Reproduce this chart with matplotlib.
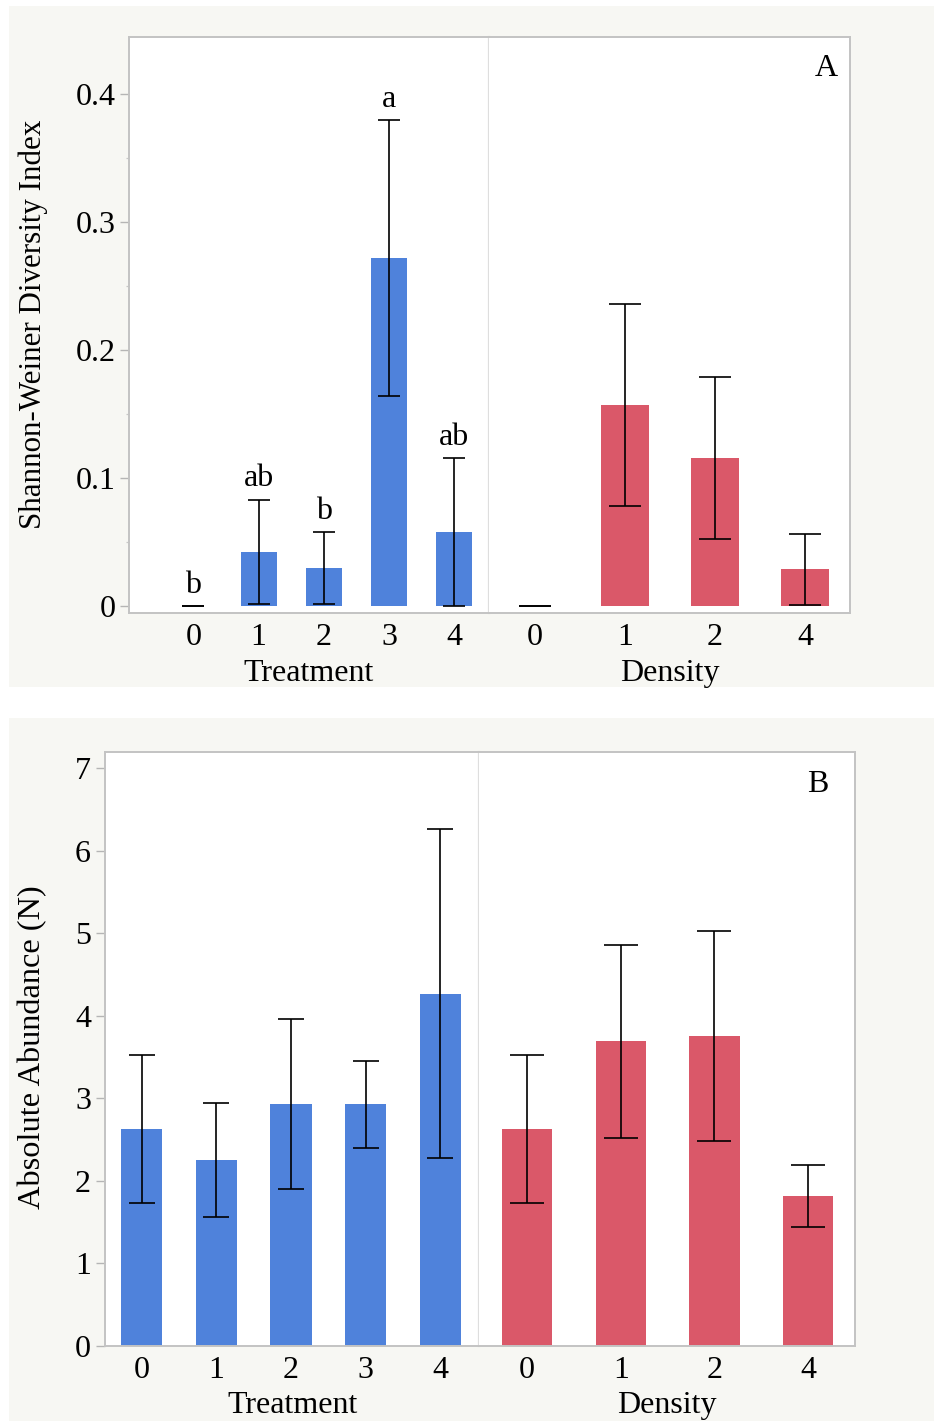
import matplotlib
matplotlib.use("Agg")
import matplotlib.pyplot as plt
from matplotlib.patches import Rectangle
from matplotlib.ticker import MultipleLocator
import numpy as np

# ---- data -------------------------------------------------------------
treat_levels = ["0", "1", "2", "3", "4"]
density_levels = ["0", "1", "2", "4"]

# Shannon-Weiner diversity index (mean and standard error)
div_treat_mean = [0.0, 0.042, 0.0295, 0.272, 0.0577]
div_treat_se = [0.0, 0.041, 0.0284, 0.108, 0.0578]
div_treat_letters = ["b", "ab", "b", "a", "ab"]
div_density_mean = [0.0, 0.157, 0.1155, 0.0285]
div_density_se = [0.0, 0.079, 0.063, 0.0276]

# Absolute abundance N (mean and standard error)
abund_treat_mean = [2.63, 2.255, 2.93, 2.93, 4.266]
abund_treat_se = [0.895, 0.69, 1.03, 0.527, 1.99]
abund_density_mean = [2.63, 3.69, 3.753, 1.815]
abund_density_se = [0.895, 1.17, 1.276, 0.377]

# ---- style ------------------------------------------------------------
BLUE = "#4f82db"
RED = "#da5869"
PANEL_BG = "#f7f7f3"
FRAME = "#c3c3c3"
DIVIDER = "#dedede"
FONT = "Liberation Serif"
FS = 23

plt.rcParams["font.family"] = [FONT, "DejaVu Serif"]
plt.rcParams["font.size"] = FS

W, H = 934, 1421
fig = plt.figure(figsize=(W / 100, H / 100), dpi=100, facecolor="white")


def px_box(x0, y0, x1, y1):
    return [x0 / W, 1 - y1 / H, (x1 - x0) / W, (y1 - y0) / H]


def px_rect(x0, y0, x1, y1, color):
    b = px_box(x0, y0, x1, y1)
    fig.patches.append(Rectangle((b[0], b[1]), b[2], b[3], transform=fig.transFigure,
                                 facecolor=color, edgecolor="none", zorder=-10))


# light panel backgrounds
px_rect(9, 6, 934, 687, PANEL_BG)
px_rect(9, 718, 934, 1421, PANEL_BG)


def draw_group(ax, levels, means, se, color, width, capsize, xlim, ylim, side, ylabel_pad=3.0):
    x = np.arange(len(levels))
    means = np.asarray(means, dtype=float)
    se = np.asarray(se, dtype=float)
    ax.bar(x, means, width=width, color=color, zorder=2)
    lower = np.minimum(se, means)
    ax.errorbar(x, means, yerr=[lower, se], fmt="none", ecolor="black",
                elinewidth=1.2, capsize=capsize, capthick=1.2, zorder=3)
    ax.set_xticks(x, levels)
    ax.set_xlim(*xlim)
    ax.set_ylim(*ylim)
    ax.set_facecolor("white")
    for s in ax.spines.values():
        s.set_color(FRAME)
        s.set_linewidth(1.4)
    ax.tick_params(axis="x", length=0, pad=7.3, labelsize=FS)
    if side == "left":
        ax.spines["right"].set_color(DIVIDER)
        ax.spines["right"].set_linewidth(1.6)
        ax.tick_params(axis="y", length=6.8, width=1.0, color="#b5b5b5",
                       pad=ylabel_pad, labelsize=FS)
    else:
        ax.spines["left"].set_visible(False)
        ax.tick_params(axis="y", left=False, labelleft=False, which="both")
    return x


# ---- panel A: diversity -------------------------------------------------
ylim_a = (-0.0055, 0.4444)
axA1 = fig.add_axes(px_box(128.7, 37.3, 489, 612.7))
axA2 = fig.add_axes(px_box(489, 37.3, 850, 612.7))

xa = draw_group(axA1, treat_levels, div_treat_mean, div_treat_se, BLUE, 0.55, 7.9,
                (-0.99, 4.53), ylim_a, "left", ylabel_pad=2.6)
draw_group(axA2, density_levels, div_density_mean, div_density_se, RED, 0.535, 11.4,
           (-0.51, 3.5), ylim_a, "right")

axA1.set_yticks([0, 0.1, 0.2, 0.3, 0.4], ["0", "0.1", "0.2", "0.3", "0.4"])
axA1.yaxis.set_minor_locator(MultipleLocator(0.05))
axA1.tick_params(axis="y", which="minor", length=2.2, width=0.9, color="#c8c8c8")

for xi, m, e, lab in zip(xa, div_treat_mean, div_treat_se, div_treat_letters):
    axA1.annotate(lab, (xi, m + e), xytext=(0, 9.4), textcoords="offset points",
                  ha="center", va="baseline", fontsize=FS)

axA1.set_xlabel("Treatment", fontsize=FS, labelpad=5)
axA2.set_xlabel("Density", fontsize=FS, labelpad=5)
axA2.text(0.9335, 0.9327, "A", transform=axA2.transAxes, ha="center", va="baseline",
          fontsize=FS)
fig.text(33 / W, 1 - 324 / H, "Shannon-Weiner Diversity Index", rotation=90,
         ha="center", va="center", fontsize=22.3)

# ---- panel B: abundance -------------------------------------------------
ylim_b = (0, 7.194)
axB1 = fig.add_axes(px_box(105, 752, 479.3, 1346))
axB2 = fig.add_axes(px_box(479.3, 752, 855, 1346))

draw_group(axB1, treat_levels, abund_treat_mean, abund_treat_se, BLUE, 0.553, 9.5,
           (-0.49, 4.52), ylim_b, "left", ylabel_pad=3.3)
draw_group(axB2, density_levels, abund_density_mean, abund_density_se, RED, 0.535, 11.9,
           (-0.51, 3.5), ylim_b, "right")
axB1.set_yticks(range(0, 8))
axB1.set_xlabel("Treatment", fontsize=FS, labelpad=4)
axB2.set_xlabel("Density", fontsize=FS, labelpad=4)
axB2.text(0.8997, 0.9327, "B", transform=axB2.transAxes, ha="center", va="baseline",
          fontsize=FS)
fig.text(33 / W, 1 - 1047 / H, "Absolute Abundance (N)", rotation=90,
         ha="center", va="center", fontsize=23.3)

fig.savefig("out.png", dpi=100, facecolor="white")
